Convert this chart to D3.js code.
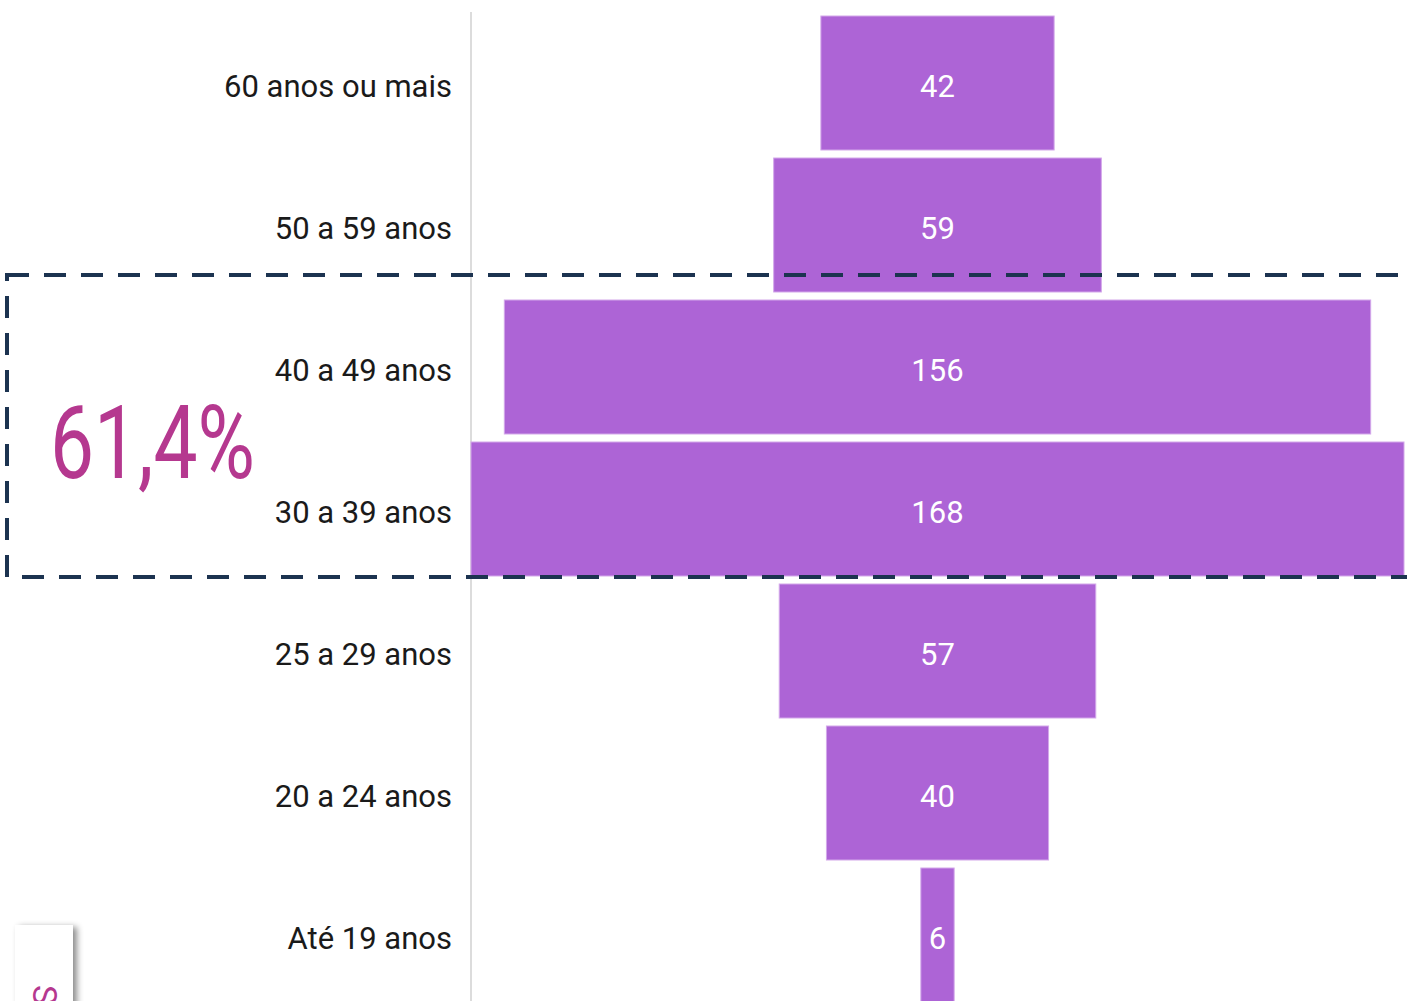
<!DOCTYPE html>
<html><head><meta charset="utf-8">
<script src="https://cdn.jsdelivr.net/npm/d3@7"></script>
<style>html,body{margin:0;padding:0;background:#fff;overflow:hidden}</style>
</head><body>
<svg id="c" width="1407" height="1001"></svg>
<script>
const categories = ["60 anos ou mais","50 a 59 anos","40 a 49 anos","30 a 39 anos","25 a 29 anos","20 a 24 anos","Até 19 anos"];
const values = [42, 59, 156, 168, 57, 40, 6];
const highlightLabel = "61,4%";
const highlightCats = ["40 a 49 anos","30 a 39 anos"];
const sideLabel = "S";

const svg = d3.select("#c");
const maxV = d3.max(values);
const x = d3.scaleLinear().domain([-maxV/2, maxV/2]).range([471, 1404]);
const y = d3.scaleBand().domain(categories).range([12, 1006]).paddingInner(8/142).paddingOuter(4/142);

// axis line
svg.append("line").attr("x1",471).attr("x2",471).attr("y1",12).attr("y2",1001)
  .attr("stroke","#dcdcdc").attr("stroke-width",2);

// bars
svg.selectAll("rect.bar").data(values).join("rect").attr("class","bar")
  .attr("x", d => x(-d/2)).attr("width", d => x(d/2) - x(-d/2))
  .attr("y", (d,i) => y(categories[i])).attr("height", y.bandwidth())
  .attr("fill","#ad64d6").attr("stroke","#d3a8ea").attr("stroke-width",1);

// value labels
svg.selectAll("text.val").data(values).join("text").attr("class","val")
  .attr("x", x(0)).attr("y", (d,i) => y(categories[i]) + y.bandwidth()/2 + 3)
  .attr("text-anchor","middle").attr("dominant-baseline","central")
  .attr("font-family","Roboto, sans-serif").attr("font-size",31)
  .attr("fill","#ffffff").text(d => d);

// category labels
svg.selectAll("text.cat").data(categories).join("text").attr("class","cat")
  .attr("x", 452).attr("y", d => y(d) + y.bandwidth()/2 + 3)
  .attr("text-anchor","end").attr("dominant-baseline","central")
  .attr("font-family","Roboto, sans-serif").attr("font-size",31)
  .attr("fill","#1a1a1a").text(d => d);

// highlight dashed box
const y0 = y(highlightCats[0]) - 25;
const y1 = y(highlightCats[1]) + y.bandwidth() + 1;
svg.append("rect").attr("x",7).attr("y",y0).attr("width",1440).attr("height",y1 - y0)
  .attr("fill","none").attr("stroke","#1c3350").attr("stroke-width",4)
  .attr("stroke-dasharray","22,15");

svg.append("text").attr("x",50).attr("y",478)
  .attr("font-family","Roboto, sans-serif").attr("font-size",102)
  .attr("textLength",205).attr("lengthAdjust","spacingAndGlyphs")
  .attr("fill","#b5388f").text(highlightLabel);

// bottom-left card with shadow
const defs = svg.append("defs");
const f = defs.append("filter").attr("id","sh").attr("x","-50%").attr("y","-50%").attr("width","200%").attr("height","200%");
f.append("feDropShadow").attr("dx",4).attr("dy",2).attr("stdDeviation",3).attr("flood-color","#000").attr("flood-opacity",0.45);
svg.append("rect").attr("x",15).attr("y",925).attr("width",58).attr("height",100)
  .attr("fill","#fff").attr("filter","url(#sh)");
svg.append("text").attr("transform","translate(33,985) rotate(90)")
  .attr("font-family","Roboto, sans-serif").attr("font-size",34)
  .attr("fill","#b5388f").text(sideLabel);
</script>
</body></html>
